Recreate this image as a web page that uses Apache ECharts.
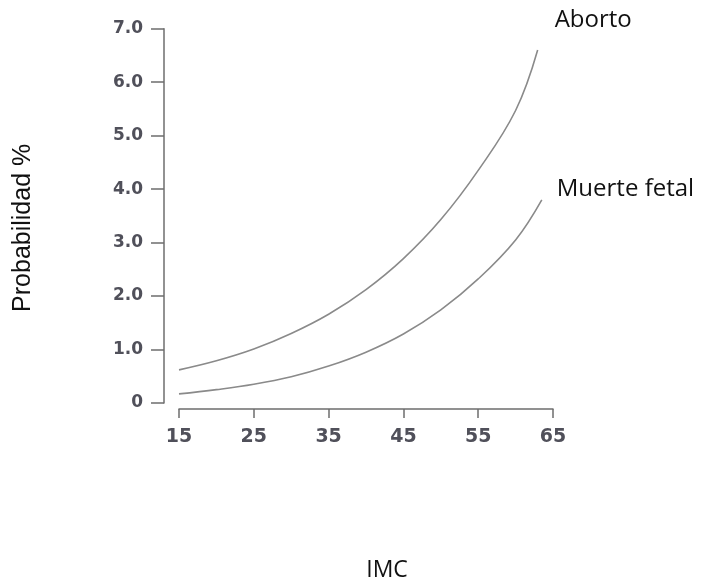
<!DOCTYPE html>
<html>
<head>
<meta charset="utf-8">
<script src="https://cdn.jsdelivr.net/npm/echarts@6/dist/echarts.min.js"></script>
<style>html,body{margin:0;padding:0;background:#fff}#c{width:701px;height:587px}</style>
</head>
<body>
<div id="c"></div>
<script>
const seriesNames = ['Aborto', 'Muerte fetal'];
const imcAborto = [15, 20, 25, 30, 35, 40, 45, 50, 55, 60, 62.95];
const probAborto = [0.62, 0.79, 1.01, 1.30, 1.66, 2.12, 2.70, 3.43, 4.35, 5.47, 6.60];
const imcMuerte = [15, 20, 25, 30, 35, 40, 45, 50, 55, 60, 63.5];
const probMuerte = [0.17, 0.25, 0.35, 0.49, 0.69, 0.95, 1.29, 1.74, 2.32, 3.05, 3.80];
const xTicks = [15, 25, 35, 45, 55, 65];
const yTicks = [0, 1, 2, 3, 4, 5, 6, 7];

const chart = echarts.init(document.getElementById('c'), null, {renderer: 'canvas'});
const axisCol = '#6e6e6e';
const lineCol = '#8a8a8a';
const tickFont = {fontFamily: 'DejaVu Sans', fontWeight: 'bold', color: '#50505a'};

function pairs(xs, ys) { return xs.map((x, i) => [x, ys[i]]); }

chart.setOption({
  animation: false,
  grid: {left: 179, right: 148, top: 28.7, bottom: 180, containLabel: false},
  xAxis: {
    type: 'value',
    min: xTicks[0], max: xTicks[xTicks.length - 1], interval: 10,
    offset: 6,
    name: 'IMC', nameLocation: 'middle', nameGap: 150,
    nameTextStyle: {fontFamily: 'Open Sans', fontSize: 23, color: '#111', padding: [0, 0, 0, 42]},
    axisLine: {show: true, onZero: false, lineStyle: {color: axisCol, width: 1.5}},
    axisTick: {show: true, length: 9, lineStyle: {color: axisCol, width: 1.5}},
    axisLabel: Object.assign({fontSize: 19, margin: 19}, tickFont),
    splitLine: {show: false}
  },
  yAxis: {
    type: 'value',
    min: yTicks[0], max: yTicks[yTicks.length - 1], interval: 1,
    offset: 15,
    name: 'Probabilidad %', nameLocation: 'middle', nameGap: 128, nameRotate: 90,
    nameTextStyle: {fontFamily: 'Liberation Sans', fontSize: 25, color: '#111', padding: [0, 24, 0, 0]},
    axisLine: {show: true, lineStyle: {color: axisCol, width: 1.5}},
    axisTick: {show: true, length: 13, lineStyle: {color: axisCol, width: 1.5}},
    axisLabel: Object.assign({fontSize: 17, margin: 21, formatter: v => v === 0 ? '0' : v.toFixed(1)}, tickFont),
    splitLine: {show: false}
  },
  series: [
    {
      name: seriesNames[0], type: 'line', smooth: 0.4, showSymbol: false,
      data: pairs(imcAborto, probAborto),
      lineStyle: {color: lineCol, width: 1.6},
      endLabel: {show: true, formatter: '{a}', distance: 0, offset: [17, -30],
        fontFamily: 'Open Sans', fontSize: 24, color: '#111'}
    },
    {
      name: seriesNames[1], type: 'line', smooth: 0.4, showSymbol: false,
      data: pairs(imcMuerte, probMuerte),
      lineStyle: {color: lineCol, width: 1.6},
      endLabel: {show: true, formatter: '{a}', distance: 0, offset: [15, -11],
        fontFamily: 'Open Sans', fontSize: 24, color: '#111'}
    }
  ]
});
</script>
</body>
</html>
